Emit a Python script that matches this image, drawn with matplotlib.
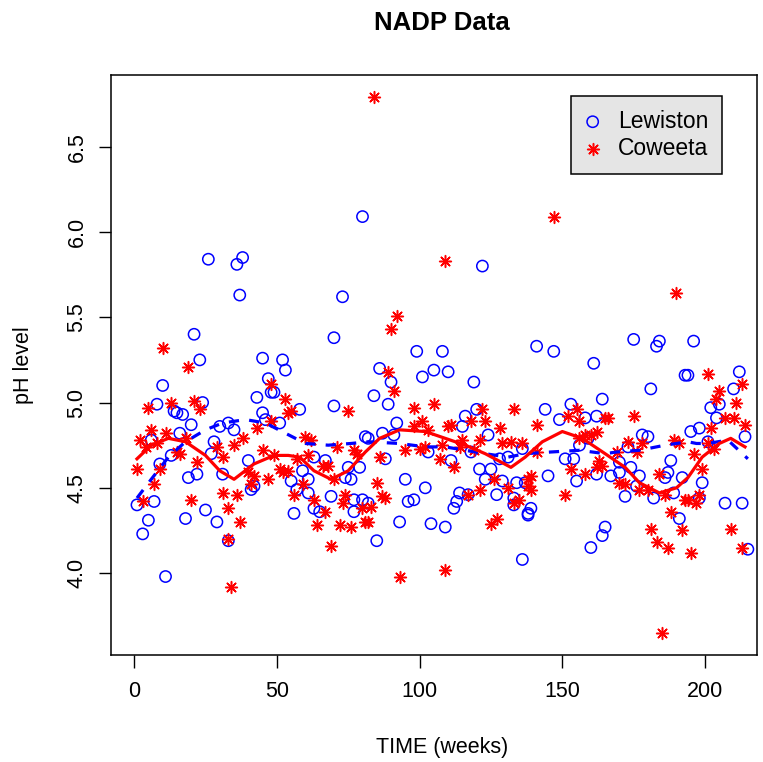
import numpy as np
import matplotlib
matplotlib.use("Agg")
import matplotlib.pyplot as plt

plt.rcParams["font.family"] = ["Liberation Sans", "DejaVu Sans"]

# ---- Lewiston (blue circles) : week, pH ----
lew_week = [21, 23, 10, 8, 24, 14, 15, 17, 20, 16, 6, 13, 9, 19, 22, 7, 1, 18, 5, 3, 11, 25,
            26, 38, 36, 37, 45, 52, 53, 47, 48, 49, 43, 45, 46, 51, 33, 30, 35, 28, 27, 40, 31, 42, 41, 29, 33,
            80, 73, 70, 70, 58, 81, 67, 63, 75, 79, 59, 61, 55, 74, 76, 57, 61, 69, 77, 80, 63, 65, 77, 56,
            99, 108, 86, 105, 110, 90, 101, 84, 89, 92, 82, 87, 91, 88, 103, 95, 102, 96, 98, 82, 93, 104, 109, 85,
            122, 119, 120, 116, 115, 124, 136, 128, 131, 111, 118, 121, 125, 123, 129, 134, 137, 114, 117, 127,
            133, 133, 138, 113, 112, 136,
            141, 147, 161, 164, 144, 153, 149, 158, 162, 156, 159, 151, 154, 145, 155, 162, 139, 138, 165, 164, 160,
            175, 184, 183, 193, 181, 178, 180, 173, 188, 170, 174, 187, 186, 192, 177, 167, 170, 176, 189, 172, 182, 191,
            196, 194, 212, 210, 202, 205, 204, 198, 195, 214, 201, 199, 198, 207, 213, 215]
lew_ph = [5.40, 5.25, 5.10, 4.99, 5.00, 4.95, 4.94, 4.93, 4.87, 4.82, 4.78, 4.69, 4.64, 4.56, 4.58, 4.42, 4.40, 4.32, 4.31, 4.23, 3.98, 4.37,
          5.84, 5.85, 5.81, 5.63, 5.26, 5.25, 5.19, 5.14, 5.06, 5.06, 5.03, 4.94, 4.90, 4.88, 4.88, 4.86, 4.84, 4.77, 4.70, 4.66, 4.58, 4.51, 4.49, 4.30, 4.19,
          6.09, 5.62, 5.38, 4.98, 4.96, 4.80, 4.66, 4.68, 4.62, 4.62, 4.60, 4.55, 4.54, 4.56, 4.55, 4.49, 4.47, 4.45, 4.43, 4.43, 4.38, 4.36, 4.36, 4.35,
          5.30, 5.30, 5.20, 5.19, 5.18, 5.12, 5.15, 5.04, 4.99, 4.88, 4.79, 4.82, 4.81, 4.67, 4.71, 4.55, 4.50, 4.42, 4.43, 4.41, 4.30, 4.29, 4.27, 4.19,
          5.80, 5.12, 4.96, 4.92, 4.86, 4.81, 4.73, 4.67, 4.68, 4.66, 4.71, 4.61, 4.61, 4.55, 4.54, 4.53, 4.53, 4.47, 4.46, 4.46,
          4.44, 4.40, 4.35, 4.42, 4.38, 4.08,
          5.33, 5.30, 5.23, 5.02, 4.96, 4.99, 4.90, 4.91, 4.92, 4.75, 4.79, 4.67, 4.67, 4.57, 4.54, 4.58, 4.38, 4.34, 4.27, 4.22, 4.15,
          5.37, 5.36, 5.33, 5.16, 5.08, 4.81, 4.80, 4.74, 4.66, 4.65, 4.62, 4.59, 4.56, 4.56, 4.57, 4.57, 4.59, 4.51, 4.47, 4.45, 4.44, 4.32,
          5.36, 5.16, 5.18, 5.08, 4.97, 4.99, 4.91, 4.85, 4.83, 4.80, 4.77, 4.53, 4.44, 4.41, 4.41, 4.14]

# ---- Coweeta (red asterisks) : week, pH ----
cow_week = [10, 19, 5, 13, 21, 23, 6, 2, 11, 18, 4, 8, 15, 16, 1, 9, 22, 7, 3, 20,
            48, 53, 54, 48, 43, 38, 35, 29, 31, 45, 49, 51, 52, 40, 42, 41, 47, 31, 36, 33, 37, 33, 34,
            55, 75, 60, 62, 71, 77, 78, 57, 61, 66, 68, 54, 70, 59, 56, 74, 73, 63, 67, 80, 81, 64, 72, 76, 69,
            84, 109, 92, 90, 89, 91, 98, 105, 101, 98, 103, 110, 102, 100, 95, 107, 108, 86, 85, 87, 88, 83, 82, 93, 109,
            133, 122, 118, 123, 111, 128, 121, 115, 129, 132, 136, 114, 119, 112, 126, 121, 117, 131, 138, 135, 133, 127, 125,
            147, 141, 155, 152, 156, 165, 162, 160, 158, 156, 141, 163, 164, 162, 153, 158, 139, 138, 139, 151,
            190, 166, 175, 173, 189, 191, 169, 176, 178, 184, 170, 172, 177, 180, 186, 193, 188, 192, 181, 183, 187, 185,
            201, 205, 213, 211, 204, 207, 210, 214, 202, 201, 203, 196, 199, 198, 194, 197, 209, 213, 195]
cow_ph = [5.32, 5.21, 4.97, 5.00, 5.01, 4.96, 4.84, 4.78, 4.82, 4.79, 4.74, 4.76, 4.71, 4.70, 4.61, 4.61, 4.65, 4.52, 4.42, 4.43,
          5.11, 5.02, 4.94, 4.89, 4.85, 4.79, 4.75, 4.74, 4.68, 4.72, 4.69, 4.61, 4.59, 4.59, 4.57, 4.52, 4.55, 4.47, 4.46, 4.38, 4.30, 4.20, 3.92,
          4.95, 4.95, 4.80, 4.78, 4.74, 4.72, 4.70, 4.67, 4.69, 4.63, 4.63, 4.60, 4.55, 4.52, 4.46, 4.46, 4.41, 4.43, 4.36, 4.38, 4.30, 4.28, 4.28, 4.27, 4.16,
          6.79, 5.83, 5.51, 5.43, 5.18, 5.07, 4.97, 4.99, 4.89, 4.86, 4.84, 4.86, 4.74, 4.73, 4.72, 4.67, 4.75, 4.68, 4.53, 4.45, 4.44, 4.39, 4.30, 3.98, 4.02,
          4.96, 4.96, 4.89, 4.89, 4.87, 4.85, 4.78, 4.78, 4.76, 4.77, 4.76, 4.74, 4.72, 4.62, 4.55, 4.49, 4.46, 4.50, 4.55, 4.43, 4.41, 4.32, 4.29,
          6.09, 4.87, 4.96, 4.92, 4.89, 4.91, 4.83, 4.81, 4.81, 4.79, 4.71, 4.66, 4.63, 4.62, 4.61, 4.58, 4.57, 4.51, 4.49, 4.46,
          5.64, 4.91, 4.92, 4.77, 4.78, 4.76, 4.71, 4.71, 4.76, 4.58, 4.53, 4.52, 4.49, 4.49, 4.46, 4.43, 4.36, 4.25, 4.26, 4.18, 4.15, 3.65,
          5.17, 5.07, 5.11, 5.00, 5.02, 4.91, 4.91, 4.87, 4.85, 4.76, 4.73, 4.70, 4.61, 4.46, 4.43, 4.41, 4.26, 4.15, 4.12]

# ---- smooth fits ----
lew_fit_week = [1, 6, 12, 18, 25, 31, 39, 46, 53, 60, 68, 76, 82, 93, 102, 109, 116, 123, 131, 137,
                146, 156, 165, 169, 177, 186, 194, 197, 201, 208, 215]
lew_fit_ph = [4.44, 4.55, 4.68, 4.77, 4.84, 4.88, 4.90, 4.88, 4.82, 4.76, 4.75, 4.76, 4.77, 4.76, 4.74, 4.74,
              4.72, 4.70, 4.68, 4.70, 4.71, 4.72, 4.70, 4.71, 4.72, 4.75, 4.77, 4.76, 4.76, 4.78, 4.67]

cow_fit_week = [1, 6, 12, 18, 25, 30, 35, 42, 49, 54, 58, 63, 69, 75, 81, 86, 93, 102, 109, 116, 123,
                132, 137, 143, 150, 157, 165, 172, 177, 184, 190, 194, 199, 205, 209, 214]
cow_fit_ph = [4.67, 4.75, 4.79, 4.77, 4.69, 4.60, 4.55, 4.64, 4.69, 4.69, 4.68, 4.60, 4.55, 4.60, 4.71, 4.79,
              4.84, 4.83, 4.79, 4.75, 4.70, 4.62, 4.68, 4.77, 4.83, 4.79, 4.70, 4.62, 4.53, 4.47, 4.50, 4.56,
              4.68, 4.76, 4.79, 4.74]

fig = plt.figure(figsize=(7.63, 7.62), dpi=100)
ax = fig.add_axes([111 / 763, 1 - 655 / 762, 646 / 763, 580 / 762])

ax.scatter(lew_week, lew_ph, s=66, facecolors="none", edgecolors="#0000FF", linewidths=1.1, zorder=3)
ax.scatter(cow_week, cow_ph, s=72, marker=(8, 2, 0), color="#FF0000", linewidths=1.1, zorder=3)

ax.plot(lew_fit_week, lew_fit_ph, color="#0000FF", lw=2.3, dashes=(3.2, 3.2), zorder=4)
ax.plot(cow_fit_week, cow_fit_ph, color="#FF0000", lw=2.3, zorder=4)

ax.set_xlim(-8.1, 218.2)
ax.set_ylim(3.52, 6.92)
ax.set_xticks([0, 50, 100, 150, 200])
ax.set_yticks([4.0, 4.5, 5.0, 5.5, 6.0, 6.5])
ax.set_yticklabels(["4.0", "4.5", "5.0", "5.5", "6.0", "6.5"], rotation=90, va="center")
ax.tick_params(direction="out", length=9, width=1, labelsize=15.5, pad=8)
ax.tick_params(axis="x", pad=10)
for sp in ax.spines.values():
    sp.set_linewidth(1.1)

ax.set_ylabel("pH level", fontsize=15.5, labelpad=23)
fig.text(442 / 763, 1 - 748 / 762, "TIME (weeks)", ha="center", va="center", fontsize=15.5)
fig.text(442 / 763, 1 - 23 / 762, "NADP Data", ha="center", va="center", fontsize=18.5, fontweight="bold")

h1 = ax.scatter([], [], s=66, facecolors="none", edgecolors="#0000FF", linewidths=1.1)
h2 = ax.scatter([], [], s=72, marker=(8, 2, 0), color="#FF0000", linewidths=1.1)
leg = ax.legend([h1, h2], ["Lewiston", "Coweeta"], loc="upper right",
                bbox_to_anchor=((722 - 111) / 646, (655 - 96) / 580), fontsize=16.5,
                fancybox=False, framealpha=1, facecolor="#E5E5E5", edgecolor="black",
                borderpad=0.6, handlelength=0.7, handletextpad=0.75, labelspacing=0.2,
                borderaxespad=0)
leg.get_frame().set_linewidth(1.1)

fig.savefig("out.png", dpi=100)
